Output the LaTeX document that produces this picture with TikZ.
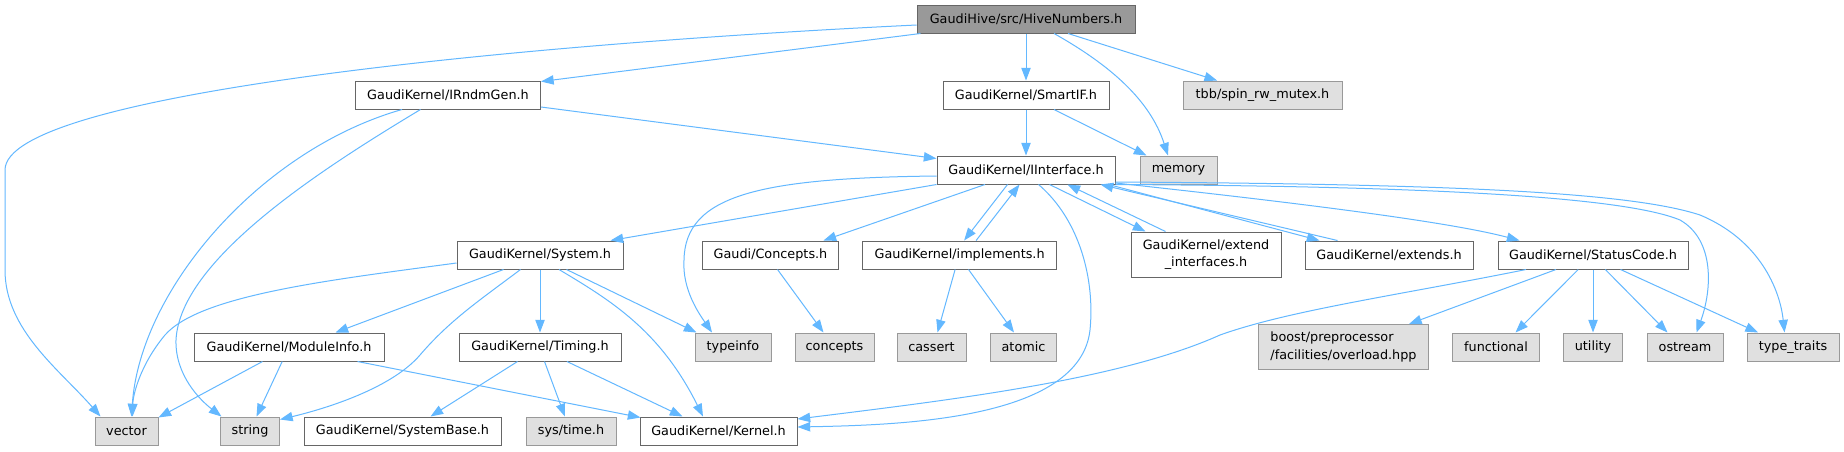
\documentclass[tikz,border=0pt]{standalone}
\usepackage{fontspec}
\newfontfamily\dv{DejaVu Sans}
\usetikzlibrary{arrows.meta,calc}
\definecolor{eblue}{HTML}{63B8FF}
\definecolor{bdark}{HTML}{666666}
\definecolor{bgrey}{HTML}{999999}
\definecolor{fgrey}{HTML}{E0E0E0}
\definecolor{ftop}{HTML}{999999}
\newcommand{\nfont}{\dv\fontsize{9.6pt}{13.1pt}\selectfont}
\begin{document}
\begin{tikzpicture}[x=0.75pt,y=-0.75pt,
  base/.style={draw=bdark, line width=0.75pt, inner sep=0pt, font=\nfont, text=black, align=center, minimum height=21pt},
  doc/.style={base, fill=white},
  ext/.style={base, fill=fgrey, draw=bgrey},
  topnode/.style={base, fill=ftop, draw=bdark},
  W/.style={minimum width=#1*0.75pt},
  H/.style={minimum height=#1*0.75pt},
  edge/.style={draw=eblue, line width=0.75pt, -{Triangle[length=9.5pt,width=7pt]}}
]
\fill[white] (0,0) rectangle (1844,451);
\useasboundingbox (0,0) rectangle (1844,451);

% rank 0
\node[topnode, W=218] (hive) at (1026,19) {GaudiHive/src/HiveNumbers.h};
% rank 1
\node[doc, W=185] (irndm) at (448,95) {GaudiKernel/IRndmGen.h};
\node[doc, W=166] (smartif) at (1026,95) {GaudiKernel/SmartIF.h};
\node[ext, W=159] (tbb) at (1262.5,95) {tbb/spin\_rw\_mutex.h};
% rank 2
\node[doc, W=178] (iint) at (1026,170) {GaudiKernel/IInterface.h};
\node[ext, W=77] (memory) at (1178.5,170) {memory};
% rank 3
\node[doc, W=166] (system) at (540,255) {GaudiKernel/System.h};
\node[doc, W=136] (gconc) at (770.5,255) {Gaudi/Concepts.h};
\node[doc, W=194] (impl) at (959.6,255) {GaudiKernel/implements.h};
\node[doc, W=150, H=45] (extint) at (1206,254.5) {GaudiKernel/extend\\\_interfaces.h};
\node[doc, W=168] (extends) at (1389,255) {GaudiKernel/extends.h};
\node[doc, W=190] (status) at (1593,255) {GaudiKernel/StatusCode.h};
% rank 4
\node[doc, W=190] (modinfo) at (289,347) {GaudiKernel/ModuleInfo.h};
\node[doc, W=162] (timing) at (540,347) {GaudiKernel/Timing.h};
\node[ext, W=76] (typeinfo) at (733,347) {typeinfo};
\node[ext, W=79] (concepts) at (834.5,347) {concepts};
\node[ext, W=69] (cassert) at (931.5,347) {cassert};
\node[ext, W=66] (atomic) at (1023.5,347) {atomic};
\node[ext, W=170, H=45, align=left] (boost) at (1343.5,347) {boost/preprocessor\\/facilities/overload.hpp};
\node[ext, W=87] (functional) at (1496,347) {functional};
\node[ext, W=59] (utility) at (1593,347) {utility};
\node[ext, W=76] (ostream) at (1685,347) {ostream};
\node[ext, W=92] (typetraits) at (1793,347) {type\_traits};
% rank 5
\node[ext, W=63] (vector) at (126.5,431) {vector};
\node[ext, W=59] (string) at (250,431) {string};
\node[doc, W=197] (sysbase) at (402.5,431) {GaudiKernel/SystemBase.h};
\node[ext, W=90] (systime) at (571,431) {sys/time.h};
\node[doc, W=157] (kernel) at (718.5,431) {GaudiKernel/Kernel.h};

% edges from HiveNumbers
\draw[edge] ($(hive.west)+(0,6)$) .. controls (500,45) and (5,95) .. (5,170) -- (5,270) .. controls (5,330) and (60,370) .. ($(vector.north west)+(6,0)$);
\draw[edge] ($(hive.south west)+(4,0)$) -- ($(irndm.north east)+(0,1)$);
\draw[edge] (hive.south) -- (smartif.north);
\draw[edge] ($(hive.south)+(28,0)$) .. controls (1110,65) and (1150,100) .. ($(memory.north)+(-10.5,0)$);
\draw[edge] ($(hive.south)+(42,0)$) -- ($(tbb.north west)+(34.6,0)$);
% IRndmGen
\draw[edge] ($(irndm.south west)+(47,0)$) .. controls (260,150) and (140,290) .. ($(vector.north east)+(-27,0)$);
\draw[edge] ($(irndm.south west)+(65.5,0)$) .. controls (320,170) and (180,260) .. (176,340) .. controls (175,375) and (200,400) .. ($(string.north west)+(1.5,0)$);
\draw[edge] ($(irndm.east)+(0,12)$) -- ($(iint.north west)+(0,3)$);
% SmartIF
\draw[edge] (smartif.south) -- (iint.north);
\draw[edge] ($(smartif.south)+(28,0)$) -- ($(memory.north west)+(7,0)$);
% IInterface
\draw[edge] (iint.south west) -- ($(system.north east)+(-13,0)$);
\draw[edge] ($(iint.west)+(0,6)$) .. controls (760,178) and (685,195) .. (684,260) .. controls (682,290) and (700,315) .. ($(typeinfo.north)+(-21,0)$);
\draw[edge] ($(iint.south west)+(48.5,0)$) -- ($(gconc.north west)+(121.5,0)$);
\draw[edge] ($(iint.south west)+(71,0)$) -- ($(impl.north west)+(102,0)$);
\draw[edge] ($(impl.north west)+(114,0)$) -- ($(iint.south west)+(83,0)$);
\draw[edge] ($(iint.south west)+(102,0)$) .. controls (1080,220) and (1095,280) .. (1090,330) .. controls (1080,420) and (900,425) .. ($(kernel.east)+(0,-4)$);
\draw[edge] ($(iint.south west)+(113,0)$) -- ($(extint.north west)+(15,0)$);
\draw[edge] ($(extint.north west)+(35,0)$) -- ($(iint.south west)+(131,0)$);
\draw[edge] ($(iint.south east)+(-7,0)$) -- ($(extends.north west)+(15,0)$);
\draw[edge] ($(extends.north west)+(33,0)$) -- ($(iint.south east)+(-15,0)$);
\draw[edge] ($(iint.east)+(0,13)$) .. controls (1300,203) and (1450,222) .. ($(status.north west)+(22,0)$);
\draw[edge] ($(iint.east)+(0,12)$) .. controls (1450,184) and (1630,192) .. (1700,215) .. controls (1760,240) and (1780,290) .. ($(typetraits.north west)+(38,0)$);
\draw[edge] (iint.south east) .. controls (1400,186) and (1620,195) .. (1680,220) .. controls (1715,240) and (1712,290) .. ($(ostream.north west)+(50,0)$);
% System
\draw[edge] ($(system.west)+(0,8)$) .. controls (330,280) and (200,295) .. (165,335) .. controls (140,365) and (133,395) .. ($(vector.north east)+(-26,0)$);
\draw[edge] ($(system.south west)+(47,0)$) -- ($(modinfo.north west)+(142,0)$);
\draw[edge] ($(system.south west)+(64,0)$) .. controls (480,300) and (450,320) .. (420,355) .. controls (390,390) and (320,410) .. ($(string.north east)+(0,3)$);
\draw[edge] (system.south) -- (timing.north);
\draw[edge] ($(system.south west)+(110,0)$) -- ($(typeinfo.north west)+(2,0)$);
\draw[edge] ($(system.south west)+(102.5,0)$) .. controls (610,300) and (660,330) .. ($(kernel.north west)+(63.5,0)$);
% ModuleInfo
\draw[edge] ($(modinfo.south west)+(69,0)$) -- ($(vector.north east)+(0,1)$);
\draw[edge] ($(modinfo.south west)+(88.7,0)$) -- ($(string.north west)+(36.5,0)$);
\draw[edge] ($(modinfo.south west)+(164,0)$) -- ($(kernel.north west)+(1,1)$);
% Timing
\draw[edge] ($(timing.south west)+(59,0)$) -- ($(sysbase.north west)+(127,0)$);
\draw[edge] ($(timing.south west)+(86,0)$) -- ($(systime.north west)+(39.4,0)$);
\draw[edge] ($(timing.south west)+(108.4,0)$) -- ($(kernel.north west)+(43,0)$);
% Concepts, implements
\draw[edge] ($(gconc.south west)+(75.5,0)$) -- ($(concepts.north west)+(29,0)$);
\draw[edge] ($(impl.south west)+(93,0)$) -- ($(cassert.north west)+(41,0)$);
\draw[edge] ($(impl.south west)+(106.4,0)$) -- ($(atomic.north west)+(24,0)$);
% StatusCode
\draw[edge] ($(status.south west)+(28.5,0)$) .. controls (1400,295) and (1290,310) .. (1220,335) .. controls (1120,380) and (950,400) .. ($(kernel.east)+(0,-12)$);
\draw[edge] ($(status.south west)+(58.5,0)$) -- ($(boost.north west)+(151,0)$);
\draw[edge] ($(status.south west)+(80.7,0)$) -- ($(functional.north west)+(63.5,0)$);
\draw[edge] (status.south) -- (utility.north);
\draw[edge] ($(status.south west)+(107.8,0)$) -- ($(ostream.north west)+(21,0)$);
\draw[edge] ($(status.south west)+(123,0)$) -- ($(typetraits.north west)+(11.5,0)$);
\end{tikzpicture}
\end{document}
